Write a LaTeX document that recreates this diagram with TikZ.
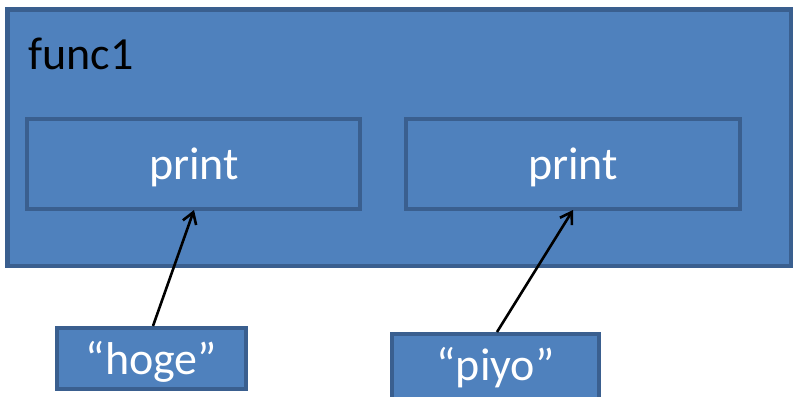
\documentclass[tikz,border=0pt]{standalone}
\usepackage{fontspec}
\setmainfont{Carlito}
\usetikzlibrary{arrows.meta}
\definecolor{boxfill}{HTML}{4F81BD}
\definecolor{boxline}{HTML}{3A5F8F}
\tikzset{
  blk/.style={draw=boxline, fill=boxfill, line width=4.5pt},
  lbl/.style={font=\fontsize{46}{50}\selectfont, text=white},
  ptr/.style={line width=2.6pt, -{Straight Barb[length=11pt,width=14pt,line width=2.6pt]}}
}
\begin{document}
\begin{tikzpicture}[x=1pt,y=-1pt]
\useasboundingbox (0,0) rectangle (794,396);
\draw[blk] (7.5,9.5) rectangle (791,266);
\node[anchor=base west, font=\fontsize{46}{50}\selectfont, text=black] (f) at (25,70) {func1};
\draw[blk] (27,119) rectangle (360,209);
\node[lbl] (p1) at (194,167) {print};
\draw[blk] (406,119) rectangle (740,209);
\node[lbl] (p2) at (573,167) {print};
\draw[blk] (57,328) rectangle (246,389);
\node[lbl] (h) at (151.5,362) {“hoge”};
\draw[blk] (392,334) rectangle (599,400);
\node[lbl] (y) at (495.5,368) {“piyo”};
\coordinate (h1) at (153,326);
\coordinate (h2) at (194,210);
\coordinate (y1) at (497,332);
\coordinate (y2) at (573,210);
\draw[ptr] (h1) -- (h2);
\draw[ptr] (y1) -- (y2);
\end{tikzpicture}
\end{document}
